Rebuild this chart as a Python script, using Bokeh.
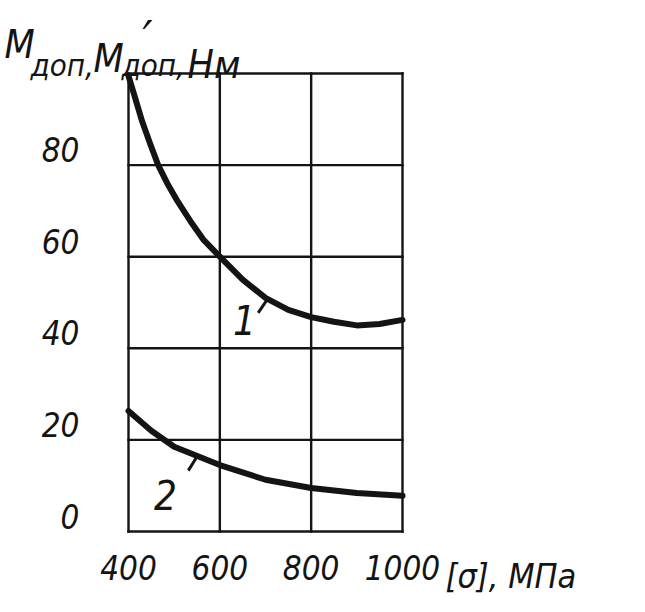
import numpy as np
from bokeh.plotting import figure
from bokeh.models import Label, LabelSet, Range1d, ColumnDataSource
from bokeh.core.properties import value
from bokeh.embed import file_html
from bokeh.resources import INLINE

# ---- data ----
stress_1 = [400, 415, 430, 448, 465, 485, 508, 536, 565, 600, 650, 700, 750, 800, 850, 900, 950, 1000]
moment_1 = [99.5, 94.5, 89.5, 84.5, 80, 76, 72, 67.7, 63.6, 60, 55, 51, 48.4, 46.8, 45.8, 45, 45.3, 46.2]

stress_2 = [400, 450, 500, 600, 700, 800, 900, 1000]
moment_2 = [26.3, 22, 18.5, 14.5, 11.3, 9.5, 8.4, 7.8]

x_ticks = [400, 600, 800, 1000]
y_ticks = [0, 20, 40, 60, 80]
y_grid = [0, 20, 40, 60, 80, 100]
curve_names = ["1", "2"]

FONT = "Liberation Sans Narrow, DejaVu Sans Condensed, Liberation Sans, sans-serif"
INK = "#141414"

# ---- layout (canvas pixels) ----
W, H = 629, 596
BOX_L, BOX_R, BOX_T, BOX_B = 128, 402, 73, 531   # where the chart box sits
X0, X1, Y0, Y1 = 400, 1000, 0, 100              # chart box in data units
SX = (BOX_R - BOX_L) / (X1 - X0)                # px per data unit
SY = (BOX_B - BOX_T) / (Y1 - Y0)

# the frame spans the whole canvas, so no text is clipped; the box is drawn from the ticks
x_range = Range1d(X0 - BOX_L / SX, X0 + (W - BOX_L) / SX)
y_range = Range1d(Y0 - (H - BOX_B) / SY, Y0 + BOX_B / SY)

p = figure(width=W, height=H, x_range=x_range, y_range=y_range,
           output_backend="svg", toolbar_location=None,
           min_border_left=0, min_border_right=0,
           min_border_top=0, min_border_bottom=0)

p.background_fill_color = "white"
p.border_fill_color = "white"
p.outline_line_color = None
p.xaxis.visible = False
p.yaxis.visible = False
p.grid.visible = False

# grid / box lines from the tick lists
p.segment(x0=x_ticks, y0=[Y0] * len(x_ticks), x1=x_ticks, y1=[Y1] * len(x_ticks),
          line_color=INK, line_width=2.4, line_cap="square")
p.segment(x0=[X0] * len(y_grid), y0=y_grid, x1=[X1] * len(y_grid), y1=y_grid,
          line_color=INK, line_width=2.4, line_cap="square")

# tick labels
ysrc = ColumnDataSource(dict(x=[X0] * len(y_ticks), y=y_ticks,
                             t=[str(v) for v in y_ticks]))
p.add_layout(LabelSet(x="x", y="y", text="t", source=ysrc, x_offset=-49, y_offset=3,
                      text_align="right", text_baseline="alphabetic",
                      text_font=value(FONT), text_font_style="italic",
                      text_font_size="33px", text_color=INK))

xsrc = ColumnDataSource(dict(x=x_ticks, y=[Y0] * len(x_ticks),
                             t=[str(v) for v in x_ticks]))
p.add_layout(LabelSet(x="x", y="y", text="t", source=xsrc, y_offset=-48,
                      text_align="center", text_baseline="alphabetic",
                      text_font=value(FONT), text_font_style="italic",
                      text_font_size="33px", text_color=INK))

# curves
p.line(stress_1, moment_1, line_color=INK, line_width=6, line_cap="round", line_join="round")
p.line(stress_2, moment_2, line_color=INK, line_width=6, line_cap="round", line_join="round")

# curve leaders anchored on the curves
lx1 = 705
ly1 = float(np.interp(lx1, stress_1, moment_1))
lx2 = 550
ly2 = float(np.interp(lx2, stress_2, moment_2))
p.segment(x0=[lx1 - 21, lx2 - 19], y0=[ly1 - 3.0, ly2 - 3.2],
          x1=[lx1 - 2, lx2 - 1], y1=[ly1 - 0.2, ly2 - 0.3],
          line_color=INK, line_width=3)

# curve numbers
p.add_layout(Label(x=lx1 - 76, y=ly1 - 4.5, text=curve_names[0], text_font=FONT,
                   text_font_style="italic", text_font_size="40px", text_color=INK,
                   text_baseline="alphabetic"))
p.add_layout(Label(x=lx2 - 94, y=ly2 - 8.5, text=curve_names[1], text_font=FONT,
                   text_font_style="italic", text_font_size="40px", text_color=INK,
                   text_baseline="alphabetic"))


# axis titles, placed by canvas pixel position
def lab(cx, cy, t, size):
    p.add_layout(Label(x=X0 + (cx - BOX_L) / SX, y=Y0 + (BOX_B - cy) / SY, text=t,
                       text_font=FONT, text_font_style="italic",
                       text_font_size=size, text_color=INK,
                       text_baseline="alphabetic"))


lab(4, 44, "M", "39px")
lab(30, 64, "доп,", "31px")
lab(93, 58, "M", "39px")
lab(142, 38, "′", "50px")
lab(121, 64, "доп,", "31px")
lab(187, 64, "Нм", "39px")

# x-axis title
lab(445, 575, "[σ], МПа", "34px")

html = file_html(p, INLINE, "chart")
open("out.html", "w").write(html)
